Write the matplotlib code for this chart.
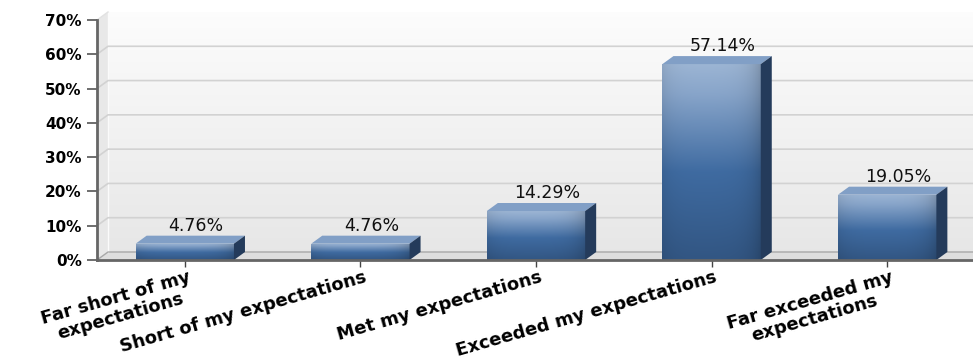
import numpy as np
import matplotlib
matplotlib.use('Agg')
import matplotlib.pyplot as plt
from matplotlib.patches import Polygon
from matplotlib.colors import LinearSegmentedColormap

# survey answers and share of respondents (%)
categories = ['Far short of my\nexpectations', 'Short of my expectations',
              'Met my expectations', 'Exceeded my expectations',
              'Far exceeded my\nexpectations']
percentages = [4.76, 4.76, 14.29, 57.14, 19.05]
y_ticks = [0, 10, 20, 30, 40, 50, 60, 70]

W, H = 973, 363
fig = plt.figure(figsize=(W / 100, H / 100), dpi=100)
ax_l, ax_b, ax_w, ax_h = 97, 103, 878, 240
ax = fig.add_axes([ax_l / W, ax_b / H, ax_w / W, ax_h / H])

xmin, xmax = -0.5, len(categories) - 0.5
ymax = 70
# depth of the fake 3d effect, in data units
dx = 11 / (ax_w / (xmax - xmin))
dy = 8 / (ax_h / ymax)

# back wall with a soft vertical gradient
wall = np.linspace(0.99, 0.905, 256).reshape(-1, 1)
ax.imshow(np.dstack([wall, wall, wall]), extent=[xmin + dx, xmax, dy, ymax + dy],
          aspect='auto', origin='upper', zorder=0, clip_on=False)
# left wall and floor
ax.add_patch(Polygon([(xmin, 0), (xmin + dx, dy), (xmin + dx, ymax + dy), (xmin, ymax)],
                     closed=True, fc='#e8e8e8', ec='none', zorder=0.5, clip_on=False))
ax.add_patch(Polygon([(xmin, 0), (xmax, 0), (xmax, dy), (xmin + dx, dy)],
                     closed=True, fc='#dedede', ec='none', zorder=0.5, clip_on=False))
ax.plot([xmin + dx, xmin + dx], [dy, ymax + dy], color='#fbfbfb', lw=1, zorder=0.6, clip_on=False)

# gridlines on the back wall and left wall
for v in y_ticks[1:-1]:
    ax.plot([xmin, xmin + dx, xmax], [v, v + dy, v + dy], color='#d2d2d2', lw=1.2,
            zorder=1, clip_on=False)
ax.plot([xmin, xmin + dx], [ymax, ymax + dy], color='#e2e2e2', lw=1, zorder=1, clip_on=False)
ax.plot([xmin, xmin + dx, xmax], [0, dy, dy], color='#a8a8a8', lw=1, zorder=1, clip_on=False)

# bar face colouring
face_cmap = LinearSegmentedColormap.from_list('face', [
    (0.0, '#9cb5d4'), (0.15, '#88a5ca'), (0.55, '#3f6ba1'), (1.0, '#325683')])
grad = face_cmap(np.linspace(0, 1, 256))[:, :3]
xs = np.linspace(0, 1, 64)
shade = 1 - 0.18 * xs ** 8 - 0.08 * (1 - xs) ** 10
face_img = grad[:, None, :] * shade[None, :, None]

bar_w = 0.56
x = np.arange(len(categories))
bars = ax.bar(x, percentages, width=bar_w, color='none', zorder=3)
for rect, h in zip(bars, percentages):
    x0 = rect.get_x()
    x1 = x0 + rect.get_width()
    im = ax.imshow(face_img, extent=[x0, x1, 0, h], aspect='auto', origin='upper', zorder=3)
    im.set_clip_path(rect)
    ax.add_patch(Polygon([(x0, h), (x1, h), (x1 + dx, h + dy), (x0 + dx, h + dy)],
                         closed=True, fc='#819fc6', ec='none', zorder=3.2))
    ax.add_patch(Polygon([(x1, 0), (x1 + dx, dy), (x1 + dx, h + dy), (x1, h)],
                         closed=True, fc='#243b5b', ec='none', zorder=3.2))
    ax.text((x0 + x1) / 2 + dx, h + dy + 0.3, '%.2f%%' % h, ha='center', va='bottom',
            fontsize=12.5, color='#111111', zorder=4)

ax.set_xlim(xmin, xmax)
ax.set_ylim(0, ymax)

ax.set_yticks(y_ticks)
ax.set_yticklabels(['%d%%' % v for v in y_ticks], fontsize=11, fontweight='bold')
ax.set_xticks(x)
ax.set_xticklabels([])
for xi, label in zip(x, categories):
    ax.annotate(label, xy=(xi, 0), xytext=(2, -6), textcoords='offset points',
                ha='right', va='top', rotation=16, rotation_mode='anchor',
                multialignment='center', fontsize=13, fontweight='bold',
                linespacing=1.05, annotation_clip=False)

ax.tick_params(axis='y', length=7, width=1.2, color='#555555', pad=4)
ax.tick_params(axis='x', length=5, width=1, color='#444444')
for side in ['top', 'right']:
    ax.spines[side].set_visible(False)
for side in ['left', 'bottom']:
    ax.spines[side].set_color('#666666')
    ax.spines[side].set_linewidth(2)
    ax.spines[side].set_zorder(5)

plt.savefig('out.png', dpi=100, facecolor='white')
